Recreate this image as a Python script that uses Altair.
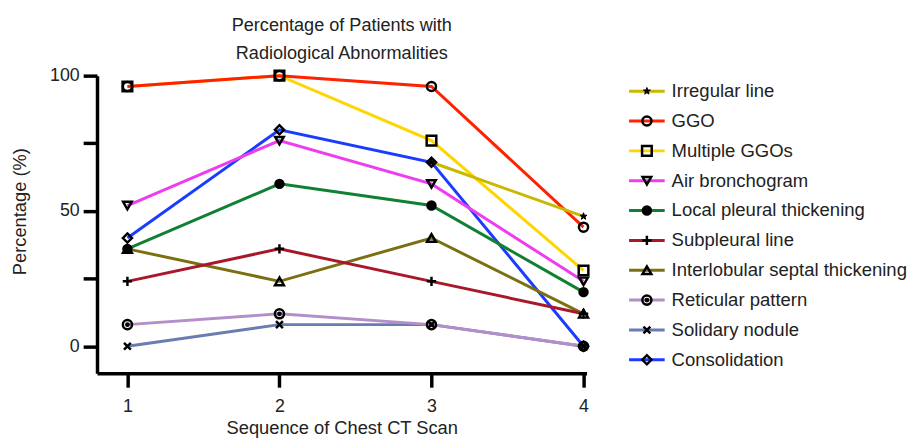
import altair as alt
import pandas as pd

FONT = "Liberation Sans"

scans = [1, 2, 3, 4]
series = [
    "Irregular line",
    "GGO",
    "Multiple GGOs",
    "Air bronchogram",
    "Local pleural thickening",
    "Subpleural line",
    "Interlobular septal thickening",
    "Reticular pattern",
    "Solidary nodule",
    "Consolidation",
]
irregular_line = [None, None, 68, 48]
ggo = [96, 100, 96, 44]
multiple_ggos = [96, 100, 76, 28]
air_bronchogram = [52, 76, 60, 24]
local_pleural_thickening = [36, 60, 52, 20]
subpleural_line = [24, 36, 24, 12]
interlobular_septal_thickening = [36, 24, 40, 12]
reticular_pattern = [8, 12, 8, 0]
solidary_nodule = [0, 8, 8, 0]
consolidation = [40, 80, 68, 0]

values = [
    irregular_line, ggo, multiple_ggos, air_bronchogram, local_pleural_thickening,
    subpleural_line, interlobular_septal_thickening, reticular_pattern,
    solidary_nodule, consolidation,
]
colors = ["#c9b800", "#ff2200", "#ffd500", "#ee3cf0", "#128033",
          "#a8182a", "#7a7012", "#b48ec8", "#6a7cb0", "#1a3cff"]

STAR = "M0,-1L0.235,-0.324L0.951,-0.309L0.38,0.124L0.588,0.809L0,0.4L-0.588,0.809L-0.38,0.124L-0.951,-0.309L-0.235,-0.324Z"
PLUS = "M-1,0L1,0M0,-1L0,1"
XMARK = "M-0.8,-0.8L0.8,0.8M-0.8,0.8L0.8,-0.8"
RING = ("M-1,0A1,1 0 1,0 1,0A1,1 0 1,0 -1,0Z"
        "M-0.25,0A0.25,0.25 0 1,0 0.25,0A0.25,0.25 0 1,0 -0.25,0Z")
shapes = [STAR, "circle", "square", "triangle-down", "circle",
          PLUS, "triangle-up", RING, XMARK, "diamond"]
fills = ["black", "transparent", "transparent", "transparent", "black",
         "transparent", "transparent", "transparent", "transparent", "transparent"]
sizes = [55, 85, 95, 75, 65, 90, 80, 85, 75, 85]
strokes = [1, 2.5, 2.5, 2.5, 2.5, 2.5, 2.5, 2.5, 2.5, 2.5]

rows = []
for s, vals in zip(series, values):
    for x, v in zip(scans, vals):
        if v is not None:
            rows.append({"series": s, "scan": x, "pct": v})
df = pd.DataFrame(rows)

color_scale = alt.Scale(domain=series, range=colors)
shape_scale = alt.Scale(domain=series, range=shapes)
fill_scale = alt.Scale(domain=series, range=fills)
size_scale = alt.Scale(type="ordinal", domain=series, range=sizes)
sw_scale = alt.Scale(type="ordinal", domain=series, range=strokes)

xs = alt.Scale(domain=[0.8, 4.02], nice=False, zero=False)
ys = alt.Scale(domain=[-10, 100], nice=False, zero=False)

x_enc = alt.X("scan:Q", scale=xs, axis=alt.Axis(
    values=scans, format="d", title="Sequence of Chest CT Scan",
    labelPadding=11, titlePadding=3))
y_enc = alt.Y("pct:Q", scale=ys, axis=alt.Axis(
    values=[0, 25, 50, 75, 100],
    labelExpr="datum.value % 50 === 0 ? datum.label : ''",
    title="Percentage (%)", titleX=-78, titleY=137, titleBaseline="middle",
    labelPadding=4))

line_layers = []
for s in reversed(series):
    line_layers.append(
        alt.Chart(df).transform_filter(alt.datum.series == s).mark_line(strokeWidth=3).encode(
            x=x_enc, y=y_enc,
            color=alt.Color("series:N", scale=color_scale, legend=None),
        )
    )

points = alt.Chart(df).mark_point(stroke="black", opacity=1).encode(
    x=x_enc, y=y_enc,
    shape=alt.Shape("series:N", scale=shape_scale, legend=None),
    fill=alt.Fill("series:N", scale=fill_scale, legend=None),
    size=alt.Size("series:N", scale=size_scale, legend=None),
    strokeWidth=alt.StrokeWidth("series:N", scale=sw_scale, legend=None),
)

main = alt.layer(*line_layers, points).properties(
    width=495, height=301,
    title=alt.TitleParams(
        ["Percentage of Patients with", "Radiological Abnormalities"],
        fontSize=18.3, font=FONT, fontWeight="normal", lineHeight=28,
        anchor="middle", offset=3, color="#222222"),
)

leg_df = pd.DataFrame({"series": series})
leg_y = alt.Y("series:N", sort=series, scale=alt.Scale(type="point", padding=0.52), axis=None)
leg_lines = alt.Chart(leg_df).mark_rule(strokeWidth=3).encode(
    x=alt.value(5), x2=alt.value(41), y=leg_y,
    color=alt.Color("series:N", scale=color_scale, legend=None),
)
leg_points = alt.Chart(leg_df).mark_point(stroke="black", opacity=1).encode(
    x=alt.value(23), y=leg_y,
    shape=alt.Shape("series:N", scale=shape_scale, legend=None),
    fill=alt.Fill("series:N", scale=fill_scale, legend=None),
    size=alt.Size("series:N", scale=size_scale, legend=None),
    strokeWidth=alt.StrokeWidth("series:N", scale=sw_scale, legend=None),
)
leg_text = alt.Chart(leg_df).mark_text(
    align="left", baseline="middle", fontSize=18.7, font=FONT, color="#222222"
).encode(x=alt.value(48), y=leg_y, text="series:N")
legend = alt.layer(leg_lines, leg_points, leg_text).properties(width=266, height=303)

chart = alt.hconcat(main, legend, spacing=31).resolve_scale(
    color="shared", shape="shared", fill="shared", size="shared", strokeWidth="shared"
).configure_view(stroke=None).configure_axis(
    domainColor="black", domainWidth=3.5, tickColor="black", tickWidth=3.5,
    tickSize=14, labelFontSize=18, titleFontSize=18.5, labelFont=FONT,
    titleFont=FONT, labelColor="#222222", titleColor="#222222",
    titleFontWeight="normal", grid=False,
).properties(padding={"left": 2, "top": 5, "right": 0, "bottom": 0})

chart.save("out.html", embed_options={"renderer": "svg", "actions": False})
